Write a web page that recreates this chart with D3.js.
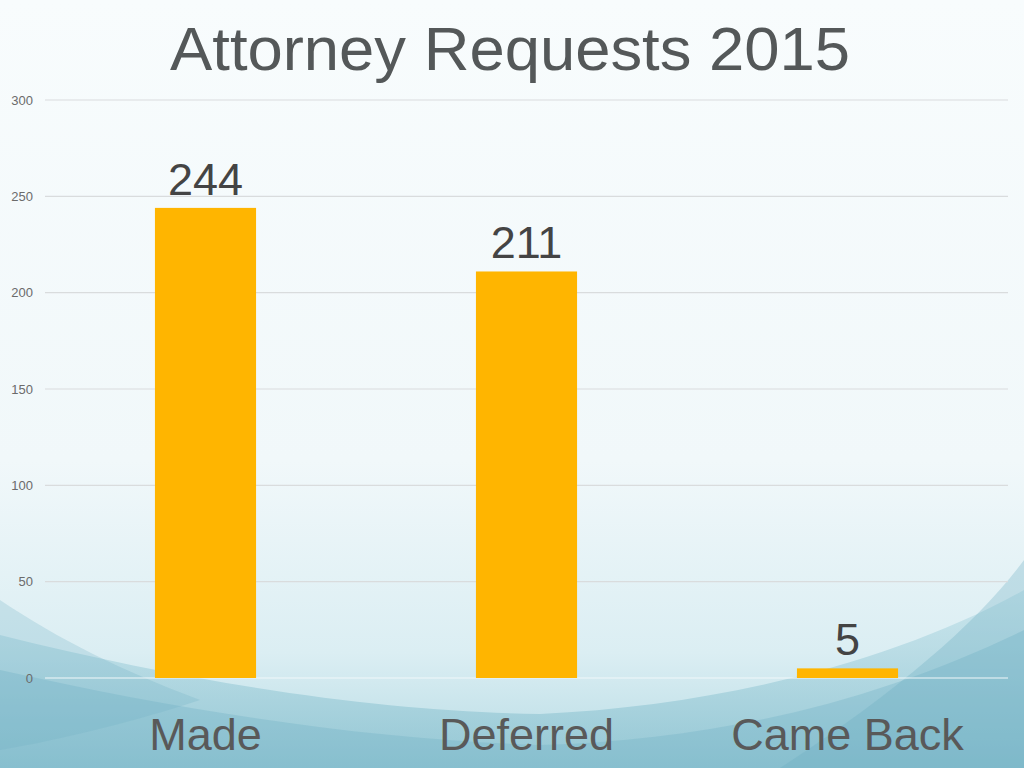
<!DOCTYPE html>
<html>
<head>
<meta charset="utf-8">
<script src="https://cdn.jsdelivr.net/npm/d3@7"></script>
<style>
  html, body { margin: 0; padding: 0; }
  body { width: 1024px; height: 768px; overflow: hidden; }
</style>
</head>
<body>
<div id="chart"></div>
<script>
const categories = ['Made', 'Deferred', 'Came Back'];
const requests = [244, 211, 5];
const yTicks = [0, 50, 100, 150, 200, 250, 300];
const chartTitle = 'Attorney Requests 2015';

const width = 1024;
const height = 768;
const margin = { top: 100, right: 16, bottom: 90, left: 45 };

const svg = d3.select('#chart')
  .append('svg')
  .attr('width', width)
  .attr('height', height);

// background, a soft wave look
const defs = svg.append('defs');
const bg = defs.append('linearGradient')
  .attr('id', 'bg').attr('x1', 0).attr('y1', 0).attr('x2', 0).attr('y2', 1);
bg.append('stop').attr('offset', '0%').attr('stop-color', '#f8fcfd');
bg.append('stop').attr('offset', '60%').attr('stop-color', '#f1f8fa');
bg.append('stop').attr('offset', '85%').attr('stop-color', '#dbeef3');
bg.append('stop').attr('offset', '100%').attr('stop-color', '#b6dbe4');

const wave = defs.append('linearGradient')
  .attr('id', 'wave').attr('x1', 0).attr('y1', 0).attr('x2', 0).attr('y2', 1);
wave.append('stop').attr('offset', '0%').attr('stop-color', '#b9dde6');
wave.append('stop').attr('offset', '100%').attr('stop-color', '#7cb9c9');

svg.append('rect')
  .attr('width', width).attr('height', height)
  .attr('fill', 'url(#bg)');

svg.append('path')
  .attr('d', 'M0,635 C220,690 400,712 540,714 C720,706 900,660 1024,590 L1024,768 L0,768 Z')
  .attr('fill', 'url(#wave)')
  .attr('opacity', 0.6);
svg.append('path')
  .attr('d', 'M0,670 C200,715 380,740 540,745 C720,740 880,700 1024,630 L1024,768 L0,768 Z')
  .attr('fill', '#74b3c5')
  .attr('opacity', 0.35);
svg.append('path')
  .attr('d', 'M0,600 C60,640 120,670 200,700 C140,720 60,740 0,750 Z')
  .attr('fill', '#6fb0c2')
  .attr('opacity', 0.25);
svg.append('path')
  .attr('d', 'M1024,560 C980,620 900,690 780,768 L1024,768 Z')
  .attr('fill', '#6aadc0')
  .attr('opacity', 0.3);

const x = d3.scaleBand()
  .domain(categories)
  .range([margin.left, width - margin.right])
  .paddingInner(0.685)
  .paddingOuter(0.3425);

const y = d3.scaleLinear()
  .domain([0, 300])
  .range([678, margin.top]);

// gridlines
svg.append('g')
  .selectAll('line')
  .data(yTicks)
  .enter().append('line')
  .attr('x1', margin.left)
  .attr('x2', width - margin.right)
  .attr('y1', d => y(d))
  .attr('y2', d => y(d))
  .attr('stroke', d => d === 0 ? '#f2f8fa' : '#d9dcdd')
  .attr('stroke-width', 1.2);

// y axis labels
const yAxis = svg.append('g')
  .attr('transform', `translate(${margin.left - 12},0)`)
  .call(d3.axisLeft(y).tickValues(yTicks).tickSize(0).tickPadding(0));
yAxis.select('.domain').remove();
yAxis.selectAll('text')
  .style('font-family', 'Liberation Sans, Arial, sans-serif')
  .style('font-size', '13px')
  .style('fill', '#6b6b6b');

// bars
svg.append('g')
  .selectAll('rect')
  .data(requests)
  .enter().append('rect')
  .attr('x', (d, i) => x(categories[i]))
  .attr('y', d => y(d))
  .attr('width', x.bandwidth())
  .attr('height', d => y(0) - y(d))
  .attr('fill', '#ffb500');

// value labels
svg.append('g')
  .selectAll('text')
  .data(requests)
  .enter().append('text')
  .attr('x', (d, i) => x(categories[i]) + x.bandwidth() / 2)
  .attr('y', d => y(d) - 13)
  .attr('text-anchor', 'middle')
  .style('font-family', 'Liberation Sans, sans-serif')
  .style('font-size', '45px')
  .style('fill', '#444')
  .text(d => d);

// category labels
const xAxis = svg.append('g')
  .attr('transform', `translate(0,${y(0)})`)
  .call(d3.axisBottom(x).tickSize(0));
xAxis.select('.domain').remove();
xAxis.selectAll('text')
  .attr('y', 72)
  .attr('dy', 0)
  .style('font-family', 'Liberation Sans, sans-serif')
  .style('font-size', '45px')
  .style('fill', '#595959');

// title
svg.append('text')
  .attr('x', 510)
  .attr('y', 70)
  .attr('text-anchor', 'middle')
  .attr('textLength', 680)
  .attr('lengthAdjust', 'spacingAndGlyphs')
  .style('font-family', 'Liberation Sans, sans-serif')
  .style('font-size', '62px')
  .style('fill', '#545859')
  .text(chartTitle);
</script>
</body>
</html>
